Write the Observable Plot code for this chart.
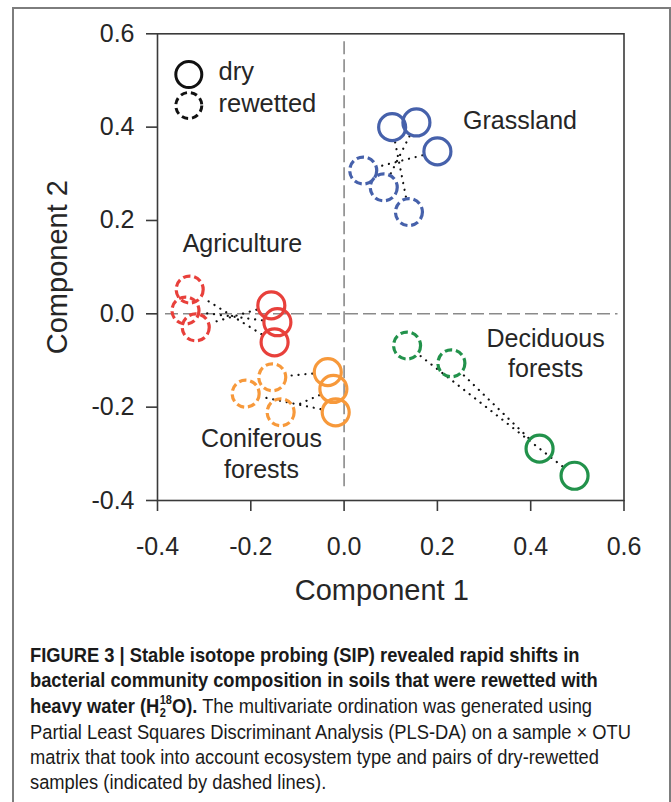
<!DOCTYPE html>
<html>
<head>
<meta charset="utf-8">
<script src="https://cdn.jsdelivr.net/npm/d3@7"></script>
<script src="https://cdn.jsdelivr.net/npm/@observablehq/plot@0.6"></script>
<style>
  html, body { margin: 0; padding: 0; background: #fff; width: 671px; height: 802px; overflow: hidden; }
  #wrap { position: relative; width: 671px; height: 802px; }
  #border { position: absolute; left: 12px; top: 7px; width: 659px; height: 850px; border: 2px solid #7d7d7d; box-sizing: border-box; }
  #chart { position: absolute; left: 0; top: 0; }
  #caption { position: absolute; left: 30px; top: 642px; display: inline-block; font-family: "Liberation Sans", Arial, sans-serif; font-size: 20.5px; line-height: 25.3px; color: #1a1a1a; white-space: nowrap; transform-origin: 0 0; }
  #caption b { font-weight: bold; }
  .iso { display: inline-block; vertical-align: -0.32em; line-height: 1em; font-size: 0.6em; text-align: left; margin-left: 0.5px; }
  .iso span { display: block; height: 1em; }
</style>
</head>
<body>
<div id="wrap">
  <div id="border"></div>
  <div id="chart"></div>
  <div id="caption"><b>FIGURE 3 | Stable isotope probing (SIP) revealed rapid shifts in<br>bacterial community composition in soils that were rewetted with<br>heavy water (H<span class="iso"><span>18</span><span>2</span></span>O).</b> The multivariate ordination was generated using<br>Partial Least Squares Discriminant Analysis (PLS-DA) on a sample × OTU<br>matrix that took into account ecosystem type and pairs of dry-rewetted<br>samples (indicated by dashed lines).</div>
</div>
<script>
// ---- data ----
const groups = ["Grassland", "Agriculture", "Coniferous", "Deciduous"];
const groupColors = ["#4661ab", "#e8403b", "#f7993b", "#22924b"];

const dryGroup = ["Grassland","Grassland","Grassland","Agriculture","Agriculture","Agriculture","Coniferous","Coniferous","Coniferous","Deciduous","Deciduous"];
const dryC1 = [0.103, 0.155, 0.200, -0.156, -0.143, -0.149, -0.035, -0.023, -0.018, 0.419, 0.494];
const dryC2 = [0.400, 0.410, 0.348, 0.018, -0.018, -0.061, -0.125, -0.161, -0.211, -0.289, -0.347];

const wetGroup = ["Grassland","Grassland","Grassland","Agriculture","Agriculture","Agriculture","Coniferous","Coniferous","Coniferous","Deciduous","Deciduous"];
const wetC1 = [0.041, 0.085, 0.139, -0.331, -0.340, -0.318, -0.154, -0.211, -0.136, 0.135, 0.230];
const wetC2 = [0.307, 0.271, 0.218, 0.052, 0.007, -0.029, -0.136, -0.171, -0.211, -0.068, -0.106];

// dry-rewetted pairs (index into dry arrays, index into rewetted arrays)
const pairDry = [0, 1, 2, 3, 4, 5, 6, 7, 8, 9, 10];
const pairWet = [2, 1, 0, 5, 4, 3, 6, 8, 7, 10, 9];

const ticks = [-0.4, -0.2, 0.0, 0.2, 0.4, 0.6];

const labelText = ["Grassland", "Agriculture", "Coniferous\nforests", "Deciduous\nforests"];
const labelC1 = [0.377, -0.218, -0.177, 0.432];
const labelC2 = [0.418, 0.153, -0.297, -0.082];

const legendLabels = ["dry", "rewetted"];

// ---- tables built from the arrays ----
const dry = dryC1.map((d, i) => ({group: dryGroup[i], c1: d, c2: dryC2[i]}));
const wet = wetC1.map((d, i) => ({group: wetGroup[i], c1: d, c2: wetC2[i]}));
const pairs = pairDry.map((di, k) => ({x1: dry[di].c1, y1: dry[di].c2, x2: wet[pairWet[k]].c1, y2: wet[pairWet[k]].c2}));
const labels = labelText.map((t, i) => ({t, c1: labelC1[i], c2: labelC2[i]}));

const textColor = "#262626";
const font = "'Liberation Sans', Arial, Helvetica, sans-serif";

const chart = Plot.plot({
  width: 671,
  height: 630,
  marginLeft: 157,
  marginRight: 47.5,
  marginTop: 33.3,
  marginBottom: 130,
  style: {fontFamily: font, fontSize: "25px", color: textColor, background: "transparent", overflow: "visible"},
  x: {domain: [-0.4, 0.6]},
  y: {domain: [-0.4, 0.6]},
  color: {domain: groups, range: groupColors},
  marks: [
    Plot.ruleX([0], {stroke: "#8a8a8a", strokeWidth: 1.6, strokeDasharray: "13,5", insetTop: 8, insetBottom: 10}),
    Plot.ruleY([0], {stroke: "#8a8a8a", strokeWidth: 1.6, strokeDasharray: "13,5", insetLeft: 8, insetRight: 6}),
    Plot.frame({stroke: "#3a3a3a", strokeWidth: 1.6}),
    Plot.axisX({ticks, tickFormat: d => d.toFixed(1), tickSize: 11, tickPadding: 26, fontSize: 25, label: null, stroke: "#3a3a3a", strokeWidth: 1.6}),
    Plot.axisY({ticks, tickFormat: d => d.toFixed(1), tickSize: 11, tickPadding: 12, fontSize: 25, label: null, stroke: "#3a3a3a", strokeWidth: 1.6}),
    Plot.text(["Component 1"], {frameAnchor: "bottom", dx: -9, dy: 90, lineAnchor: "middle", textAnchor: "middle", fontSize: 29, fill: textColor}),
    Plot.text(["Component 2"], {frameAnchor: "left", dx: -100, rotate: -90, lineAnchor: "middle", textAnchor: "middle", fontSize: 29, fill: textColor}),
    Plot.arrow(pairs, {x1: "x1", y1: "y1", x2: "x2", y2: "y2", headLength: 0, insetStart: 15.5, insetEnd: 15.5, stroke: "#111", strokeWidth: 2.2, strokeDasharray: "0.1,6.8", strokeLinecap: "round"}),
    Plot.dot(dry, {x: "c1", y: "c2", r: 13.5, stroke: "group", strokeWidth: 3.2, fill: "none"}),
    Plot.dot(wet, {x: "c1", y: "c2", r: 13.5, stroke: "group", strokeWidth: 3.2, fill: "none", strokeDasharray: "7.5,3.8"}),
    Plot.text(labels, {x: "c1", y: "c2", text: "t", fontSize: 25, lineHeight: 1.24, fill: textColor}),
    // legend
    Plot.dot([legendLabels[0]], {frameAnchor: "top-left", dx: 31.3, dy: 40.7, r: 13, stroke: "#111", strokeWidth: 3, fill: "none"}),
    Plot.dot([legendLabels[1]], {frameAnchor: "top-left", dx: 31.3, dy: 71.7, r: 13, stroke: "#111", strokeWidth: 3, fill: "none", strokeDasharray: "6.5,4"}),
    Plot.text([legendLabels[0]], {frameAnchor: "top-left", dx: 61, dy: 38.5, text: d => d, textAnchor: "start", lineAnchor: "middle", fontSize: 25.5, fill: textColor}),
    Plot.text([legendLabels[1]], {frameAnchor: "top-left", dx: 61, dy: 70, text: d => d, textAnchor: "start", lineAnchor: "middle", fontSize: 25.5, fill: textColor}),
  ]
});
document.getElementById("chart").appendChild(chart);

// condense the caption horizontally so its widest line matches the reference width
const cap = document.getElementById("caption");
const w = cap.getBoundingClientRect().width;
cap.style.transform = `scaleX(${601 / w})`;
</script>
</body>
</html>
